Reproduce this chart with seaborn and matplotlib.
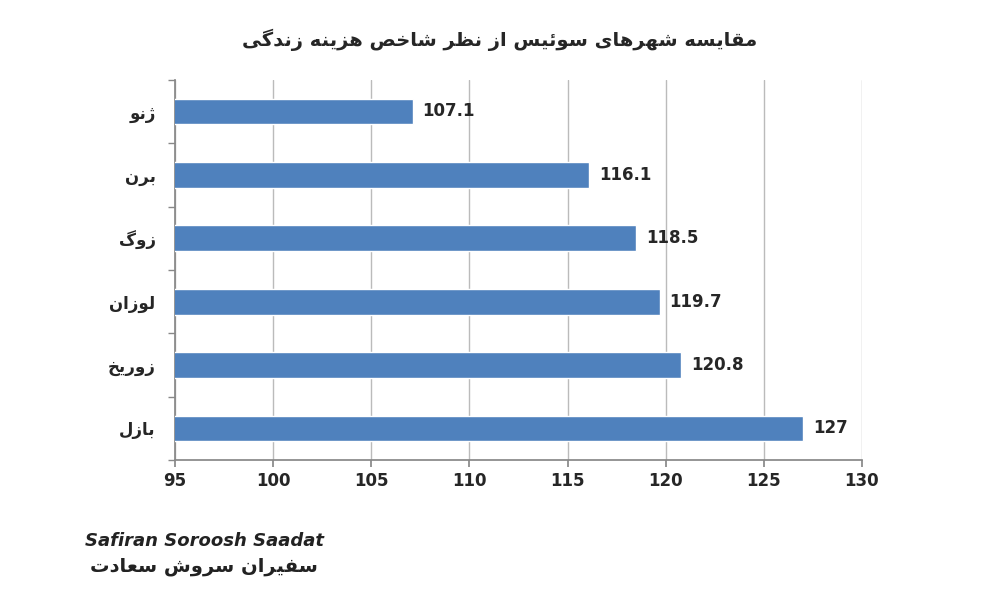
import matplotlib
matplotlib.use("Agg")
import matplotlib.pyplot as plt
import seaborn as sns
import pandas as pd

cities = ["ژنو", "برن", "زوگ", "لوزان", "زوریخ", "بازل"]
values = [107.1, 116.1, 118.5, 119.7, 120.8, 127]
title = "مقایسه شهرهای سوئیس از نظر شاخص هزینه زندگی"
xticks = [95, 100, 105, 110, 115, 120, 125, 130]
brand_en = "Safiran Soroosh Saadat"
brand_fa = "سفیران سروش سعادت"

FORMS = {
    'ا': (0xFE8D, 0xFE8E, None, None), 'ب': (0xFE8F, 0xFE90, 0xFE91, 0xFE92),
    'ت': (0xFE95, 0xFE96, 0xFE97, 0xFE98), 'خ': (0xFEA5, 0xFEA6, 0xFEA7, 0xFEA8),
    'د': (0xFEA9, 0xFEAA, None, None), 'ر': (0xFEAD, 0xFEAE, None, None),
    'ز': (0xFEAF, 0xFEB0, None, None), 'س': (0xFEB1, 0xFEB2, 0xFEB3, 0xFEB4),
    'ش': (0xFEB5, 0xFEB6, 0xFEB7, 0xFEB8), 'ص': (0xFEB9, 0xFEBA, 0xFEBB, 0xFEBC),
    'ظ': (0xFEC5, 0xFEC6, 0xFEC7, 0xFEC8), 'ق': (0xFED5, 0xFED6, 0xFED7, 0xFED8),
    'ع': (0xFEC9, 0xFECA, 0xFECB, 0xFECC), 'ف': (0xFED1, 0xFED2, 0xFED3, 0xFED4),
    'ل': (0xFEDD, 0xFEDE, 0xFEDF, 0xFEE0), 'م': (0xFEE1, 0xFEE2, 0xFEE3, 0xFEE4),
    'ن': (0xFEE5, 0xFEE6, 0xFEE7, 0xFEE8), 'ه': (0xFEE9, 0xFEEA, 0xFEEB, 0xFEEC),
    'و': (0xFEED, 0xFEEE, None, None), 'ی': (0xFBFC, 0xFBFD, 0xFBFE, 0xFBFF),
    'ئ': (0xFE89, 0xFE8A, 0xFE8B, 0xFE8C), 'ژ': (0xFB8A, 0xFB8B, None, None),
    'گ': (0xFB92, 0xFB93, 0xFB94, 0xFB95),
}

def shape(text):
    out_words = []
    for w in text.split(" "):
        res = []
        for i, c in enumerate(w):
            if c not in FORMS:
                res.append(c); continue
            prev = w[i-1] if i > 0 else None
            nxt = w[i+1] if i + 1 < len(w) else None
            join_prev = prev in FORMS and FORMS[prev][2] is not None
            join_next = nxt in FORMS and FORMS[c][2] is not None
            f = FORMS[c]
            if join_prev and join_next:
                code = f[3]
            elif join_prev:
                code = f[1]
            elif join_next:
                code = f[2]
            else:
                code = f[0]
            res.append(chr(code))
        out_words.append("".join(res)[::-1])
    return " ".join(out_words[::-1])

sns.set_theme(style="white")
plt.rcParams['font.family'] = ['DejaVu Sans']

df = pd.DataFrame({"city": [shape(c) for c in cities], "value": values})

fig = plt.figure(figsize=(10, 6), dpi=100)
ax = fig.add_axes([0.175, 0.233, 0.687, 0.634])
sns.barplot(data=df, y="city", x="value", color="#4F81BD", saturation=1,
            width=0.41, ax=ax, orient="h", zorder=3)
ax.set_xlim(95, 130)
ax.set_ylim(5.35, -0.4)
ax.set_xticks(xticks)
ax.set_xticklabels([str(t) for t in xticks], fontsize=12, fontweight="bold")
ax.tick_params(axis="y", labelsize=12, length=0, pad=14)
for lbl in ax.get_yticklabels():
    lbl.set_fontweight("bold")
ax.set_yticks([i + 0.5 for i in range(-1, 6)], minor=True)
ax.tick_params(axis="y", which="minor", length=5, color="#888888", left=True)
ax.set_xlabel(""); ax.set_ylabel("")
ax.grid(axis="x", color="#BBBBBB", linewidth=1, zorder=0)
for s in ["top", "right"]:
    ax.spines[s].set_visible(False)
ax.spines["left"].set_color("#888888")
ax.spines["bottom"].set_color("#888888")
ax.tick_params(axis="x", length=5, color="#888888", bottom=True)
for i, v in enumerate(values):
    ax.text(v + 0.5, i, f"{v:g}", va="center", ha="left", fontsize=12, fontweight="bold")
fig.text(0.5, 0.933, shape(title), ha="center", va="center", fontsize=14, fontweight="bold")
fig.text(0.085, 0.098, brand_en, ha="left", va="center", fontsize=13,
         fontweight="bold", fontstyle="italic", color="#222222")
fig.text(0.09, 0.055, shape(brand_fa), ha="left", va="center", fontsize=14,
         fontweight="bold", color="#222222")
fig.savefig("out.png", dpi=100)
